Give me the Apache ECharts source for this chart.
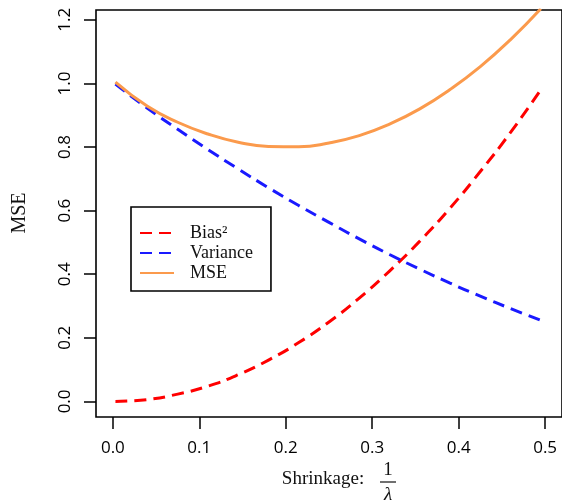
<!DOCTYPE html>
<html>
<head>
<meta charset="utf-8">
<script src="https://cdn.jsdelivr.net/npm/echarts@6/dist/echarts.min.js"></script>
<style>
  html, body { margin: 0; padding: 0; background: #fff; }
  #chart { width: 562px; height: 504px; }
</style>
</head>
<body>
<div id="chart"></div>
<script>
// Shrinkage 1/lambda on the horizontal axis
const shrinkage = [0.003, 0.04, 0.075, 0.11, 0.145, 0.18, 0.215, 0.25, 0.285, 0.32, 0.355, 0.39, 0.425, 0.46, 0.495];
// Squared bias, variance and their sum (MSE)
const biasSq   = [0.000, 0.006, 0.023, 0.048, 0.084, 0.130, 0.185, 0.250, 0.325, 0.410, 0.504, 0.608, 0.723, 0.846, 0.980];
const variance = [0.998, 0.922, 0.856, 0.792, 0.731, 0.672, 0.616, 0.563, 0.511, 0.462, 0.416, 0.372, 0.331, 0.292, 0.255];
const mse      = [1.004, 0.928, 0.878, 0.841, 0.815, 0.802, 0.801, 0.813, 0.836, 0.872, 0.920, 0.981, 1.053, 1.138, 1.235];

const xTicks = [0, 0.1, 0.2, 0.3, 0.4, 0.5];
const yTicks = [0, 0.2, 0.4, 0.6, 0.8, 1.0, 1.2];

const seriesNames = ['Bias\u00B2', 'Variance', 'MSE'];

const pair = (xs, ys) => xs.map((x, i) => [x, ys[i]]);

const tickFont = '"Open Sans", "DejaVu Sans", sans-serif';
const serif = '"Liberation Serif", "DejaVu Serif", serif';
const dash = [12, 7];

const chart = echarts.init(document.getElementById('chart'), null, { renderer: 'canvas' });

chart.setOption({
  animation: false,
  backgroundColor: '#ffffff',
  grid: {
    left: 96, top: 10, right: -5, bottom: 87,
    show: true, borderColor: '#000', borderWidth: 1.6,
    backgroundColor: 'transparent'
  },
  xAxis: {
    type: 'value',
    min: -0.0195, max: 0.5195,
    splitLine: { show: false },
    axisLine: { show: false, onZero: false },
    axisTick: {
      show: true, length: 12, inside: false,
      customValues: xTicks,
      lineStyle: { color: '#000', width: 1.5 }
    },
    axisLabel: {
      show: true, margin: 23,
      customValues: xTicks,
      formatter: v => v.toFixed(1),
      color: '#000', fontSize: 17, fontFamily: tickFont
    }
  },
  yAxis: {
    type: 'value',
    min: -0.049, max: 1.231,
    splitLine: { show: false },
    axisLine: { show: false, onZero: false },
    axisTick: {
      show: true, length: 12, inside: false,
      customValues: yTicks,
      lineStyle: { color: '#000', width: 1.5 }
    },
    axisLabel: {
      show: true, margin: 22, rotate: 90,
      customValues: yTicks,
      formatter: v => v.toFixed(1),
      color: '#000', fontSize: 17, fontFamily: tickFont
    }
  },
  legend: {
    orient: 'vertical',
    left: 131, top: 207,
    padding: [17, 18, 9, 8],
    itemWidth: 34, itemHeight: 18, itemGap: 2,
    borderColor: '#000', borderWidth: 1.6,
    backgroundColor: '#fff',
    itemStyle: { opacity: 0 },
    textStyle: {
      fontFamily: serif, fontSize: 18, color: '#111',
      lineHeight: 18, padding: [0, 0, 0, 11]
    },
    data: seriesNames
  },
  series: [
    {
      name: seriesNames[0], type: 'line', symbol: 'none', smooth: true,
      data: pair(shrinkage, biasSq),
      lineStyle: { color: '#ff0000', width: 3, type: dash },
      itemStyle: { color: '#ff0000' }
    },
    {
      name: seriesNames[1], type: 'line', symbol: 'none', smooth: true,
      data: pair(shrinkage, variance),
      lineStyle: { color: '#1a1aff', width: 3, type: dash },
      itemStyle: { color: '#1a1aff' }
    },
    {
      name: seriesNames[2], type: 'line', symbol: 'none', smooth: true,
      data: pair(shrinkage, mse),
      lineStyle: { color: '#fb9a4c', width: 3, type: 'solid' },
      itemStyle: { color: '#fb9a4c' }
    }
  ],
  graphic: [
    {
      type: 'text', x: 20, y: 213, rotation: Math.PI / 2,
      style: { text: 'MSE', font: '20px ' + serif, fill: '#111', align: 'center', verticalAlign: 'middle' }
    },
    {
      type: 'text', x: 323, y: 479,
      style: { text: 'Shrinkage:', font: '19px ' + serif, fill: '#111', align: 'center', verticalAlign: 'middle' }
    },
    {
      type: 'text', x: 388, y: 470,
      style: { text: '1', font: '19px ' + serif, fill: '#111', align: 'center', verticalAlign: 'middle' }
    },
    {
      type: 'line', shape: { x1: 380, y1: 482, x2: 396, y2: 482 },
      style: { stroke: '#111', lineWidth: 1.2 }
    },
    {
      type: 'text', x: 388, y: 495,
      style: { text: '\u03BB', font: 'italic 19px ' + serif, fill: '#111', align: 'center', verticalAlign: 'middle' }
    }
  ]
});
</script>
</body>
</html>
